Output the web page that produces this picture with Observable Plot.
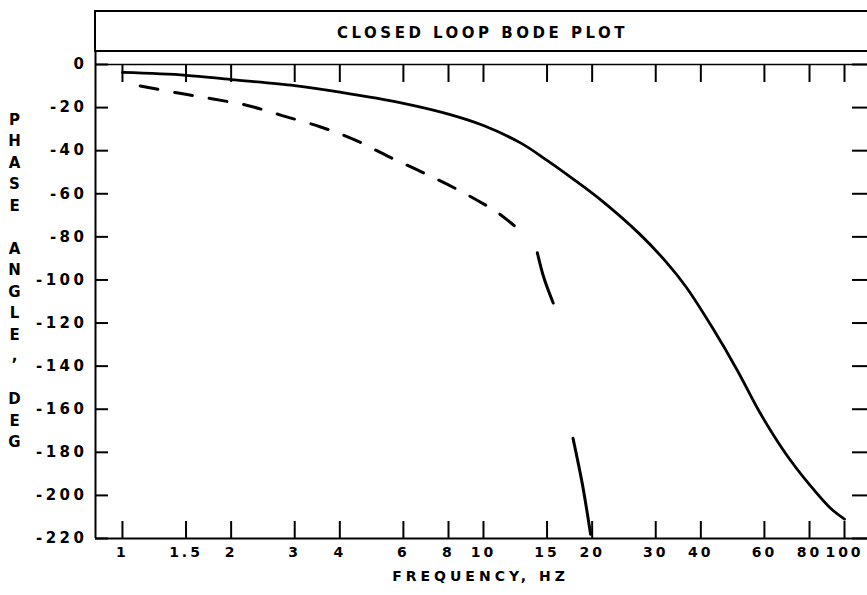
<!DOCTYPE html>
<html>
<head>
<meta charset="utf-8">
<script src="https://cdn.jsdelivr.net/npm/d3@7"></script>
<script src="https://cdn.jsdelivr.net/npm/@observablehq/plot@0.6"></script>
<style>
  html, body { margin: 0; padding: 0; background: #fff; }
  #title {
    margin-left: 94px; margin-top: 10px; height: 38px; width: 773px;
    border: 2px solid #000; border-right: none; box-sizing: content-box;
    font-family: "DejaVu Sans", sans-serif; font-weight: bold; font-size: 15px;
    letter-spacing: 3.5px; line-height: 42px; text-align: center; color: #000;
  }
  #chart svg g.ylab text { letter-spacing: 3.5px; }
  #chart svg g.xlab text { letter-spacing: 3px; }
  #chart svg g.xtitle text { letter-spacing: 4px; }
</style>
</head>
<body>
<div id="title">CLOSED LOOP BODE PLOT</div>
<div id="chart"></div>
<script>
// ---- data ----
const xTicks = [1, 1.5, 2, 3, 4, 6, 8, 10, 15, 20, 30, 40, 60, 80, 100];
const yTicks = [0, -20, -40, -60, -80, -100, -120, -140, -160, -180, -200, -220];
const xDomain = [0.842, 115.8];
const yDomain = [-220, 0];
const xTitle = "FREQUENCY, HZ";

// closed loop phase (solid curve)
const closedFreq  = [1, 1.5, 2, 3, 4, 6, 8, 10, 12.7, 15, 17.5, 21, 27, 32, 36.5, 43, 50.5, 58.5, 69, 80, 91.5, 100];
const closedPhase = [-3.7, -5, -7, -9.8, -12.8, -18, -23, -28.3, -36.5, -44.5, -52.5, -62.5, -78.5, -91.5, -103.5, -122, -142, -162, -181, -195, -206, -211];

// dashed curve
const dashFreq  = [1.12, 1.4, 1.75, 2.22, 2.77, 3.54, 4.4, 5.5, 6.9, 8.8, 11.0, 12.4];
const dashPhase = [-10, -13, -15.8, -19, -23.7, -29, -35, -43, -50.7, -59.5, -69, -76];

// separate long strokes of the dashed curve
const segFreq  = [14.1, 14.7, 15.6, 17.7, 18.8, 19.8];
const segPhase = [-87.4, -99, -110.7, -173.5, -195, -218];
const segId    = ["a", "a", "a", "b", "b", "b"];

const yLabelLetters = ["P","H","A","S","E","\u00a0","A","N","G","L","E",",","\u00a0","D","E","G"];

// ---- build ----
const closed = closedFreq.map((f, i) => ({f, p: closedPhase[i]}));
const dashed = dashFreq.map((f, i) => ({f, p: dashPhase[i]}));
const segs = segFreq.map((f, i) => ({f, p: segPhase[i], s: segId[i]}));

const W = 867, H = 543, mT = 12, mB = 57, mL = 95, mR = 0;
const fw = W - mL - mR, fh = H - mT - mB;

const chart = Plot.plot({
  width: W, height: H,
  marginTop: mT, marginBottom: mB, marginLeft: mL, marginRight: mR,
  x: {type: "log", domain: xDomain, axis: null},
  y: {domain: yDomain, axis: null},
  style: {fontFamily: "DejaVu Sans, sans-serif", fontWeight: "bold", fontSize: "14px", color: "#000", background: "#fff", overflow: "visible"},
  marks: [
    // frame lines
    Plot.ruleX([xDomain[0]], {stroke: "#000", strokeWidth: 2, insetTop: -12}),
    Plot.ruleY([yDomain[0]], {stroke: "#000", strokeWidth: 2}),
    Plot.ruleY([yDomain[1]], {stroke: "#000", strokeWidth: 1.5}),
    // inward ticks
    Plot.ruleX(xTicks, {x: d => d, stroke: "#000", strokeWidth: 2, insetTop: fh - 17}),
    Plot.ruleX(xTicks, {x: d => d, stroke: "#000", strokeWidth: 2, insetBottom: fh - 18}),
    Plot.ruleY(yTicks, {y: d => d, stroke: "#000", strokeWidth: 2, insetRight: fw - 13}),
    Plot.ruleY(yTicks, {y: d => d, stroke: "#000", strokeWidth: 2, insetLeft: fw - 15}),
    // x tick labels
    Plot.text(xTicks, {x: d => d, text: d => String(d), frameAnchor: "bottom", lineAnchor: "top", dy: 9,
      fontSize: 14, fill: "#000", className: "xlab"}),
    // x title
    Plot.text([xTitle], {text: d => d, frameAnchor: "bottom", lineAnchor: "top", dy: 33, dx: -1,
      fontSize: 14, fill: "#000", className: "xtitle"}),
    // y tick labels
    Plot.text(yTicks, {y: d => d, text: d => d === 0 ? "0" : "-" + (-d), frameAnchor: "left", textAnchor: "end", dx: -8,
      fontSize: 15, fill: "#000", className: "ylab"}),
    // curves
    Plot.line(closed, {x: "f", y: "p", stroke: "#000", strokeWidth: 2.8, curve: "catmull-rom"}),
    Plot.line(dashed, {x: "f", y: "p", stroke: "#000", strokeWidth: 3, strokeDasharray: "18,17", curve: "catmull-rom"}),
    Plot.line(segs, {x: "f", y: "p", z: "s", stroke: "#000", strokeWidth: 3, curve: "catmull-rom"}),
    // y label
    Plot.text([yLabelLetters.join("\n")], {text: d => d, frameAnchor: "top-left", dx: -81, dy: 45,
      lineAnchor: "top", lineHeight: 1.433, textAnchor: "middle", fontSize: 15, fill: "#000"})
  ]
});
document.getElementById("chart").appendChild(chart);
</script>
</body>
</html>
